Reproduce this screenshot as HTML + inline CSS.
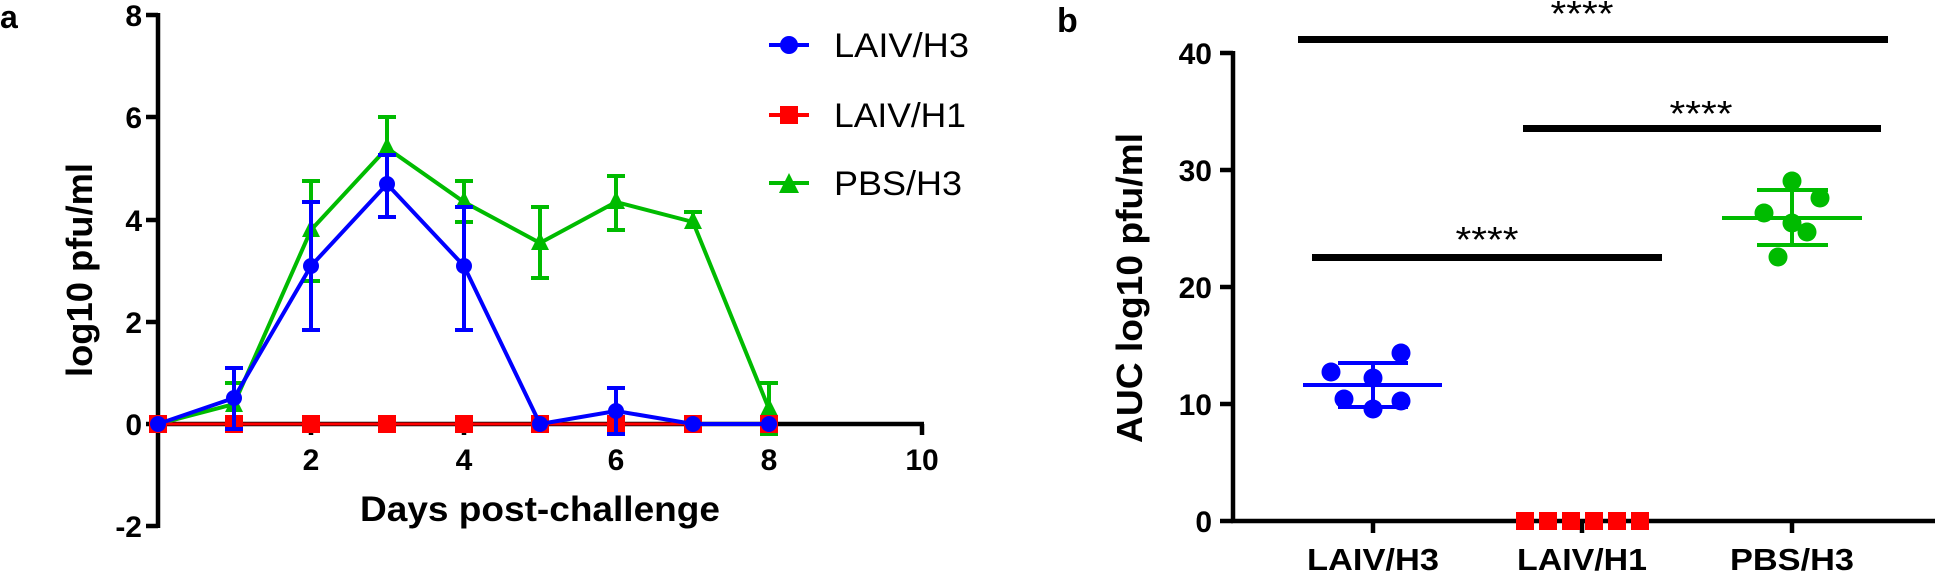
<!DOCTYPE html>
<html><head><meta charset="utf-8"><style>html,body{margin:0;padding:0;background:#fff}svg{display:block}</style></head>
<body>
<svg width="1935" height="573" viewBox="0 0 1935 573" xmlns="http://www.w3.org/2000/svg" font-family="Liberation Sans, Arial, sans-serif">
<!-- Panel a -->
<text x="0" y="28" font-size="32" font-weight="bold">a</text>
<g stroke="#000" stroke-width="4.5" fill="none">
<line x1="158" y1="13" x2="158" y2="528"/>
<line x1="158" y1="424" x2="924" y2="424"/>
<path d="M146 15H158M146 117H158M146 220H158M146 322H158M146 424H158M146 526H158"/>
<path d="M311 424V435M464 424V435M616 424V435M769 424V435M922 424V435"/>
</g>
<g font-size="30" font-weight="bold" text-anchor="end">
<text x="142" y="26">8</text><text x="142" y="128">6</text><text x="142" y="231">4</text>
<text x="142" y="333">2</text><text x="142" y="435">0</text><text x="142" y="537">-2</text>
</g>
<g font-size="30" font-weight="bold" text-anchor="middle">
<text x="311" y="470">2</text><text x="464" y="470">4</text><text x="616" y="470">6</text><text x="769" y="470">8</text><text x="922" y="470">10</text>
</g>
<text x="540" y="521" font-size="35" font-weight="bold" text-anchor="middle" textLength="360" lengthAdjust="spacingAndGlyphs">Days post-challenge</text>
<text transform="translate(92,270) rotate(-90)" font-size="36" font-weight="bold" text-anchor="middle" textLength="214" lengthAdjust="spacingAndGlyphs">log10 pfu/ml</text>

<!-- green series -->
<g stroke="#00bb00" stroke-width="4" fill="none">
<polyline points="158,424 234,404 311,230 387,148 464,202 540,243 616,202 693,222 769,409"/>
<path d="M234,383V424M225,383H243 M311,181V281M302,181H320M302,281H320 M387,117V148M378,117H396 M464,181V222M455,181H473M455,222H473 M540,207V278M531,207H549M531,278H549 M616,176V230M607,176H625M607,230H625 M693,212V222M684,212H702 M769,383V434M760,383H778M760,434H778"/>
</g>
<g fill="#00bb00">
<polygon points="234,394 243,412 225,412"/><polygon points="311,219 320,237 302,237"/>
<polygon points="387,137 396,155 378,155"/><polygon points="464,191 473,209 455,209"/>
<polygon points="540,232 549,250 531,250"/><polygon points="616,191 625,209 607,209"/>
<polygon points="693,211 702,229 684,229"/><polygon points="769,398 778,416 760,416"/>
</g>
<!-- red series -->
<line x1="158" y1="424" x2="769" y2="424" stroke="#ff0000" stroke-width="3"/>
<g fill="#ff0000">
<rect x="149" y="415" width="18" height="18"/><rect x="225" y="415" width="18" height="18"/>
<rect x="302" y="415" width="18" height="18"/><rect x="378" y="415" width="18" height="18"/>
<rect x="455" y="415" width="18" height="18"/><rect x="531" y="415" width="18" height="18"/>
<rect x="607" y="415" width="18" height="18"/><rect x="684" y="415" width="18" height="18"/>
<rect x="760" y="415" width="18" height="18"/>
</g>
<!-- blue series -->
<g stroke="#0000ff" stroke-width="4" fill="none">
<polyline points="158,424 234,398 311,266 387,184 464,266 540,424 616,411 693,424 769,424"/>
<path d="M234,368V429M225,368H243M225,429H243 M311,202V330M302,202H320M302,330H320 M387,155V217M378,155H396M378,217H396 M464,207V330M455,207H473M455,330H473 M616,388V434M607,388H625M607,434H625"/>
</g>
<g fill="#0000ff">
<circle cx="158" cy="424" r="8"/><circle cx="234" cy="398" r="8"/><circle cx="311" cy="266" r="8"/>
<circle cx="387" cy="184" r="8"/><circle cx="464" cy="266" r="8"/><circle cx="540" cy="424" r="8"/>
<circle cx="616" cy="411" r="8"/><circle cx="693" cy="424" r="8"/><circle cx="769" cy="424" r="8"/>
</g>
<!-- legend -->
<g stroke-width="4">
<line x1="769" y1="45" x2="809" y2="45" stroke="#0000ff"/><circle cx="789" cy="45" r="9" fill="#0000ff"/>
<line x1="769" y1="115" x2="809" y2="115" stroke="#ff0000"/><rect x="780" y="106" width="18" height="18" fill="#ff0000"/>
<line x1="769" y1="183" x2="809" y2="183" stroke="#00bb00"/><polygon points="789,173 799,193 779,193" fill="#00bb00"/>
</g>
<g font-size="34">
<text x="834" y="57" textLength="135" lengthAdjust="spacingAndGlyphs">LAIV/H3</text>
<text x="834" y="127" textLength="132" lengthAdjust="spacingAndGlyphs">LAIV/H1</text>
<text x="834" y="195" textLength="128" lengthAdjust="spacingAndGlyphs">PBS/H3</text>
</g>

<!-- Panel b -->
<text x="1057" y="32" font-size="34" font-weight="bold">b</text>
<g stroke="#000" stroke-width="4.5" fill="none">
<line x1="1233" y1="51" x2="1233" y2="523"/>
<line x1="1231" y1="521" x2="1935" y2="521"/>
<path d="M1220 53H1233M1220 170H1233M1220 287H1233M1220 404H1233M1220 521H1233"/>
<path d="M1373 521V533M1582 521V533M1792 521V533"/>
</g>
<g font-size="30" font-weight="bold" text-anchor="end">
<text x="1212" y="64">40</text><text x="1212" y="181">30</text><text x="1212" y="298">20</text>
<text x="1212" y="415">10</text><text x="1212" y="532">0</text>
</g>
<g font-size="31" font-weight="bold" text-anchor="middle">
<text x="1373" y="570" textLength="132" lengthAdjust="spacingAndGlyphs">LAIV/H3</text>
<text x="1582" y="570" textLength="130" lengthAdjust="spacingAndGlyphs">LAIV/H1</text>
<text x="1792" y="570" textLength="124" lengthAdjust="spacingAndGlyphs">PBS/H3</text>
</g>
<text transform="translate(1142,288) rotate(-90)" font-size="36" font-weight="bold" text-anchor="middle" textLength="310" lengthAdjust="spacingAndGlyphs">AUC log10 pfu/ml</text>
<!-- significance -->
<g fill="#000">
<rect x="1298" y="36" width="590" height="7"/>
<rect x="1523" y="125" width="358" height="7"/>
<rect x="1312" y="254" width="350" height="7"/>
</g>
<g font-size="36" text-anchor="middle">
<text x="1582" y="26" textLength="63" lengthAdjust="spacingAndGlyphs">****</text>
<text x="1701" y="126" textLength="63" lengthAdjust="spacingAndGlyphs">****</text>
<text x="1487" y="252" textLength="63" lengthAdjust="spacingAndGlyphs">****</text>
</g>
<!-- blue group -->
<g fill="#0000ff">
<circle cx="1331" cy="372" r="9.5"/><circle cx="1401" cy="353" r="9.5"/><circle cx="1373" cy="378" r="9.5"/>
<circle cx="1344" cy="399" r="9.5"/><circle cx="1401" cy="401" r="9.5"/><circle cx="1373" cy="409" r="9.5"/>
</g>
<g stroke="#0000ff" stroke-width="4">
<line x1="1303" y1="385" x2="1442" y2="385"/>
<path d="M1338 363H1408M1338 407H1408M1373 363V407"/>
</g>
<!-- green group -->
<g fill="#00bb00">
<circle cx="1792" cy="181" r="9.5"/><circle cx="1820" cy="198" r="9.5"/><circle cx="1764" cy="213" r="9.5"/>
<circle cx="1792" cy="223" r="9.5"/><circle cx="1807" cy="232" r="9.5"/><circle cx="1778" cy="257" r="9.5"/>
</g>
<g stroke="#00bb00" stroke-width="4">
<line x1="1722" y1="218" x2="1862" y2="218"/>
<path d="M1757 190H1828M1757 245H1828M1792 190V245"/>
</g>
<!-- red group -->
<g fill="#ff0000">
<rect x="1516" y="512" width="18" height="18"/><rect x="1539" y="512" width="18" height="18"/>
<rect x="1562" y="512" width="18" height="18"/><rect x="1585" y="512" width="18" height="18"/>
<rect x="1608" y="512" width="18" height="18"/><rect x="1631" y="512" width="18" height="18"/>
</g>
</svg>
</body></html>
